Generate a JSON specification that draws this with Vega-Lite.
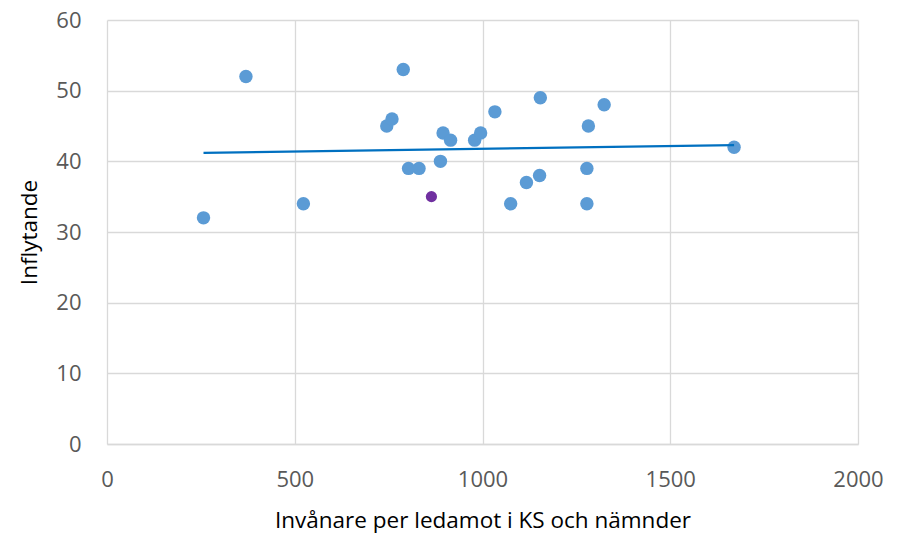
{
  "$schema": "https://vega.github.io/schema/vega-lite/v6.json",
  "autosize": "none",
  "width": 751,
  "height": 424,
  "padding": {"left": 107, "top": 20, "right": 41, "bottom": 89},
  "background": "white",
  "config": {
    "view": {"stroke": null},
    "font": "Open Sans",
    "axis": {
      "labelFont": "Open Sans",
      "titleFont": "Open Sans",
      "labelColor": "#595959",
      "titleColor": "#000000",
      "labelFontSize": 22,
      "titleFontSize": 22.5,
      "titleFontWeight": "normal",
      "gridColor": "#d9d9d9",
      "gridWidth": 1.3,
      "ticks": false,
      "labelFlush": false,
      "format": "d"
    }
  },
  "data": {
    "values": [
      {"x": 257, "y": 32, "grupp": "Kommuner"},
      {"x": 370, "y": 52, "grupp": "Kommuner"},
      {"x": 523, "y": 34, "grupp": "Kommuner"},
      {"x": 745, "y": 45, "grupp": "Kommuner"},
      {"x": 759, "y": 46, "grupp": "Kommuner"},
      {"x": 789, "y": 53, "grupp": "Kommuner"},
      {"x": 803, "y": 39, "grupp": "Kommuner"},
      {"x": 831, "y": 39, "grupp": "Kommuner"},
      {"x": 888, "y": 40, "grupp": "Kommuner"},
      {"x": 895, "y": 44, "grupp": "Kommuner"},
      {"x": 915, "y": 43, "grupp": "Kommuner"},
      {"x": 979, "y": 43, "grupp": "Kommuner"},
      {"x": 995, "y": 44, "grupp": "Kommuner"},
      {"x": 1033, "y": 47, "grupp": "Kommuner"},
      {"x": 1075, "y": 34, "grupp": "Kommuner"},
      {"x": 1117, "y": 37, "grupp": "Kommuner"},
      {"x": 1152, "y": 38, "grupp": "Kommuner"},
      {"x": 1154, "y": 49, "grupp": "Kommuner"},
      {"x": 1278, "y": 39, "grupp": "Kommuner"},
      {"x": 1278, "y": 34, "grupp": "Kommuner"},
      {"x": 1282, "y": 45, "grupp": "Kommuner"},
      {"x": 1324, "y": 48, "grupp": "Kommuner"},
      {"x": 1670, "y": 42, "grupp": "Kommuner"},
      {"x": 864, "y": 35, "grupp": "Markerad"}
    ]
  },
  "encoding": {
    "x": {
      "field": "x",
      "type": "quantitative",
      "scale": {"domain": [0, 2000], "nice": false},
      "axis": {
        "title": "Invånare per ledamot i KS och nämnder",
        "values": [0, 500, 1000, 1500, 2000],
        "grid": true,
        "domain": true,
        "domainColor": "#d9d9d9",
        "domainWidth": 1.3,
        "labelPadding": 25,
        "titlePadding": 19
      }
    },
    "y": {
      "field": "y",
      "type": "quantitative",
      "scale": {"domain": [0, 60], "nice": false},
      "axis": {
        "title": "Inflytande",
        "values": [0, 10, 20, 30, 40, 50, 60],
        "grid": true,
        "domain": false,
        "labelPadding": 26,
        "titlePadding": 14
      }
    }
  },
  "layer": [
    {
      "transform": [{"filter": "datum.grupp === 'Kommuner'"}],
      "mark": {"type": "circle", "size": 180, "color": "#5B9BD5", "opacity": 1}
    },
    {
      "transform": [{"filter": "datum.grupp === 'Markerad'"}],
      "mark": {"type": "circle", "size": 125, "color": "#7030A0", "opacity": 1}
    },
    {
      "transform": [{"regression": "y", "on": "x"}],
      "mark": {"type": "line", "color": "#0070C0", "strokeWidth": 2.2}
    }
  ]
}
